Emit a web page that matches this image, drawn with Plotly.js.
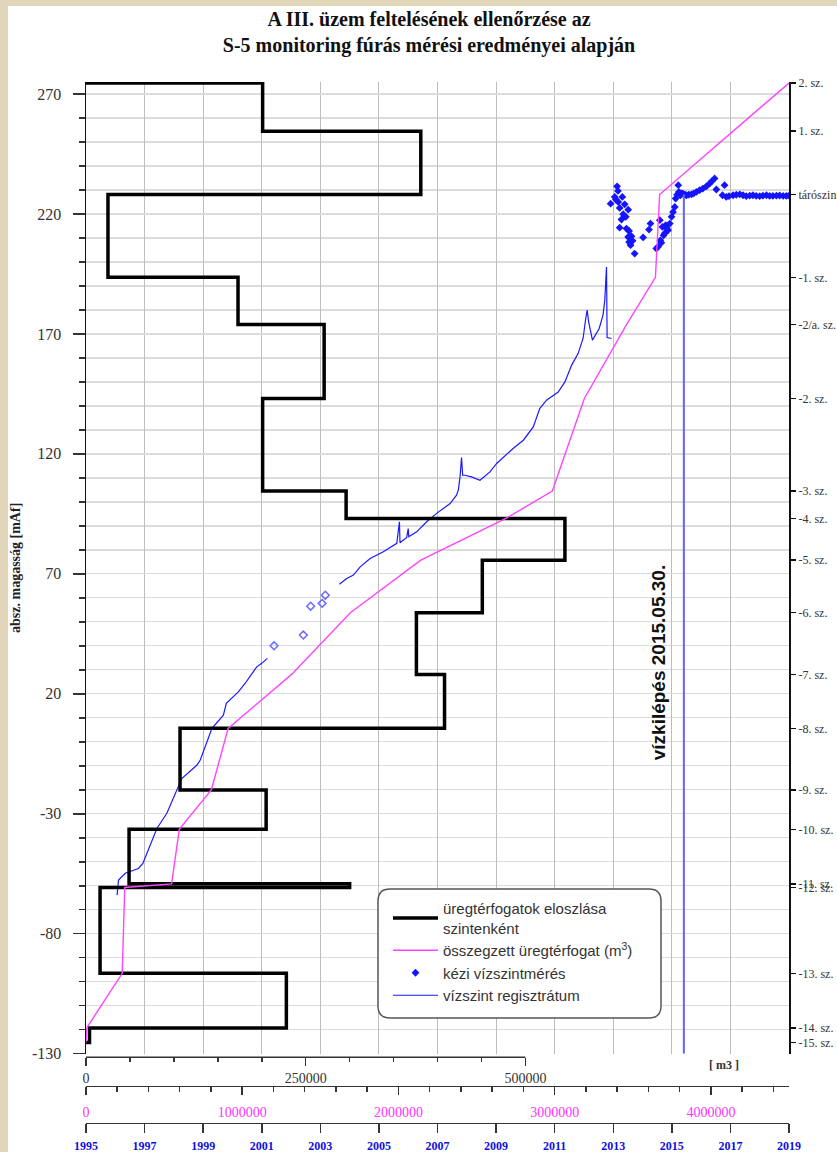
<!DOCTYPE html>
<html><head><meta charset="utf-8">
<script src="https://cdn.plot.ly/plotly-3.0.1.min.js"></script>
<style>
html,body{margin:0;padding:0;width:837px;height:1152px;overflow:hidden;background:#e2d6ba;}
#bg{position:absolute;left:8px;top:6px;width:829px;height:1146px;background:#fff;}
#chart{position:absolute;left:0;top:0;width:837px;height:1152px;}
</style></head><body><div id="bg"></div><div id="chart"></div>
<script>
// ---- data ----
const levelNames = ["2. sz.","1. sz.","tárószint","-1. sz.","-2/a. sz.","-2. sz.","-3. sz.","-4. sz.","-5. sz.","-6. sz.","-7. sz.","-8. sz.","-9. sz.","-10. sz.","-11. sz.","-12. sz.","-13. sz.","-14. sz.","-15. sz."];
const levelValues = [274.6, 254.5, 228.1, 193.6, 173.9, 143.1, 104.5, 93.1, 75.7, 53.8, 28.1, 5.6, -20.1, -36.5, -59.2, -60.7, -96.5, -119.3, -125.3];
// void volume of each layer between consecutive levels (top to bottom), m3
const layerVolumes = [201000, 381000, 25000, 173000, 271000, 201000, 296000, 545000, 451000, 376000, 408000, 107000, 205000, 49000, 300000, 16000, 228000, 4000];

// cumulative void volume (m3) vs level
const cumLevels  = [-125.3, -119.3, -96.5, -60.7, -59.2, -36.5, -20.1, 5.6, 28.1, 53.8, 75.7, 93.1, 104.5, 143.1, 173.9, 193.6, 228.1, 274.6];
const cumVolumes = [0, 4000, 232000, 248000, 548000, 597000, 802000, 910000, 1316000, 1692000, 2143000, 2688000, 2985000, 3190000, 3460000, 3645000, 3672000, 4500000];

// water level logger record
const regYears = [1996.06,1996.11,1996.34,1996.79,1996.94,1997.42,1997.76,1998.16,1998.27,1998.79,
  1998.9,1999.3,1999.69,1999.79,2000.03,2000.2,2000.43,2000.6,2000.83,2001.0,
  2001.19,null,
  2003.65,2003.9,2004.13,2004.36,2004.7,2005.15,2005.61,2005.7,2005.72,2005.95,
  2006.0,2006.02,2006.29,2006.63,2006.97,2007.43,2007.65,2007.71,2007.77,2007.82,
  2007.86,2007.94,2008.16,2008.45,2008.79,2009.02,2009.58,2009.93,2010.27,2010.49,
  2010.72,2011.12,2011.35,2011.58,2011.8,2011.97,2012.06,2012.11,2012.16,2012.2,
  2012.29,2012.52,2012.65,2012.71,2012.77,2012.79,2012.94];
const regLevels = [-63.9,-57.6,-54.8,-52.8,-50.7,-36.1,-29.8,-18.0,-15.3,-9.7,
  -7.6,5.6,11.1,16.0,18.75,20.8,24.3,27.1,31.25,32.7,
  34.75,null,
  65.7,68.1,69.5,72.9,76.4,79.2,82.7,91.7,83.0,85.2,
  88.9,85.5,87.5,91.7,95.2,99.3,102.8,104.9,110.4,118.5,
  111.1,111.1,110.4,109.0,112.5,116.0,122.25,125.7,131.25,138.9,
  142.4,145.8,150.0,157.0,161.8,168.1,176.4,179.9,175.0,172.25,
  167.4,172.25,177.8,184.0,197.9,168.5,168.1];

// manual water level measurements
const manualYears = [2012.91,2013.05,2013.09,2013.13,2013.16,2013.17,2013.22,2013.22,2013.28,2013.31,
  2013.34,2013.39,2013.43,2013.45,2013.51,2013.51,2013.54,2013.54,2013.59,2013.62,
  2013.66,2013.73,2014.02,2014.22,2014.27,2014.47,2014.53,2014.59,2014.61,2014.64,
  2014.68,2014.72,2014.76,2014.79,2014.83,2014.87,2014.93,2014.99,2015.04,2015.10,
  2015.13,2015.18,2015.22,2015.24,2015.29,2015.34,2015.38,2015.45,2015.50,2015.58,
  2015.67,2015.75,2015.84,2015.95,2016.06,2016.18,2016.29,2016.38,2016.46,2016.52,
  2016.73,2016.80,2016.86,2016.95,2017.09,2017.20,2017.32,2017.43,2017.54,2017.66,
  2017.77,2017.88,2018.00,2018.11,2018.23,2018.34,2018.45,2018.57,2018.68,2018.80,
  2018.91,2019.00];
const manualLevels = [224.3,227.1,226.0,231.5,229.6,225.0,222.5,214.3,217.7,227.1,
  219.9,224.0,218.8,213.9,221.8,210.4,212.9,208.3,207.0,210.7,
  208.8,203.5,210.2,213.5,216.0,205.6,206.3,217.4,209.0,208.0,
  214.6,211.1,212.0,215.3,214.0,213.2,216.0,218.8,220.8,222.9,
  226.4,228.0,232.0,229.2,227.8,228.6,228.5,228.0,227.8,228.1,
  228.2,228.6,229.2,229.9,230.6,231.5,232.7,233.8,234.8,230.2,
  227.8,232.0,227.1,227.4,227.8,228.0,228.2,227.8,227.4,227.6,
  227.8,227.5,227.4,227.6,227.8,227.5,227.5,227.6,227.7,227.5,
  227.5,227.6];
const manualOpenYears  = [2001.42, 2002.42, 2002.67, 2003.06, 2003.17];
const manualOpenLevels = [40.0, 44.5, 56.5, 57.7, 61.1];

const exitYear = 2015.41; // vízkilépés 2015.05.30.
const exitLabel = "vízkilépés 2015.05.30.";

// axis ticks
const yTickVals = [-130, -80, -30, 20, 70, 120, 170, 220, 270];
const yTickText = ["-130", "-80", "-30", "20", "70", "120", "170", "220", "270"];
const volTickVals = [0, 250000, 500000];
const volTickText = ["0", "250000", "500000"];
const cumTickVals = [0, 1000000, 2000000, 3000000, 4000000];
const cumTickText = ["0", "1000000", "2000000", "3000000", "4000000"];

// ---- build ----
const stepX = [0], stepY = [levelValues[0]];
for (let i = 0; i < layerVolumes.length; i++) {
  stepX.push(layerVolumes[i], layerVolumes[i]);
  stepY.push(levelValues[i], levelValues[i + 1]);
}
stepX.push(0); stepY.push(levelValues[levelValues.length - 1]);

const volMinor = [];
for (let v = 50000; v < 500000; v += 50000) if (v !== 250000) volMinor.push(v);

const H = 1152, T = 82, B = 12, L = 86, R = 48;
const ph = H - T - B, pw = 837 - L - R;
const py = p => (H - B - p) / ph;
const px = p => (p - L) / pw;

const serif = "Liberation Serif, Times New Roman, serif";
const sans = "Liberation Sans, Arial, sans-serif";

const traces = [
  {x: stepX, y: stepY, xaxis: 'x2', yaxis: 'y2', mode: 'lines',
   line: {color: '#000', width: 3.5}, name: 'üregtérfogatok eloszlása<br>szintenként'},
  {x: cumVolumes, y: cumLevels, xaxis: 'x3', yaxis: 'y', mode: 'lines',
   line: {color: '#ff44ff', width: 1.4}, name: 'összegzett üregtérfogat (m<sup>3</sup>)'},
  {x: manualYears, y: manualLevels, xaxis: 'x', yaxis: 'y', mode: 'markers',
   marker: {symbol: 'diamond', size: 6, color: '#1414ff'}, name: 'kézi vízszintmérés'},
  {x: regYears, y: regLevels, xaxis: 'x', yaxis: 'y', mode: 'lines', connectgaps: false,
   line: {color: '#1a1aff', width: 1.2}, name: 'vízszint regisztrátum'},
  {x: manualOpenYears, y: manualOpenLevels, xaxis: 'x', yaxis: 'y', mode: 'markers', showlegend: false,
   marker: {symbol: 'diamond-open', size: 6, color: '#6a6aff', line: {width: 1.5, color: '#6a6aff'}}},
  {x: [exitYear, exitYear], y: [levelValues[2], -130], xaxis: 'x', yaxis: 'y', mode: 'lines', showlegend: false,
   line: {color: '#6262ff', width: 2}}
];

// rounded legend box path (paper coords)
const bx0 = px(378), bx1 = px(661), by0 = py(1018), by1 = py(889);
const rx = 12 / pw, ry = 12 / ph;
const boxPath = `M${bx0 + rx},${by1} L${bx1 - rx},${by1} Q${bx1},${by1} ${bx1},${by1 - ry} ` +
  `L${bx1},${by0 + ry} Q${bx1},${by0} ${bx1 - rx},${by0} L${bx0 + rx},${by0} Q${bx0},${by0} ${bx0},${by0 + ry} ` +
  `L${bx0},${by1 - ry} Q${bx0},${by1} ${bx0 + rx},${by1} Z`;

const layout = {
  width: 837, height: 1152,
  margin: {l: L, r: R, t: T, b: B},
  paper_bgcolor: 'rgba(0,0,0,0)', plot_bgcolor: '#fff',
  showlegend: true,
  title: {text: 'A III. üzem feltelésének ellenőrzése az<br>S-5 monitoring fúrás mérési eredményei alapján',
    font: {family: serif, size: 20, weight: 'bold', color: '#111'},
    xref: 'paper', x: px(429), xanchor: 'center', yref: 'container', y: 1 - 26 / H, yanchor: 'top'},
  xaxis: {range: [1995, 2019], domain: [0, 1], anchor: 'free', position: py(1122.7),
    tickmode: 'linear', tick0: 1995, dtick: 2, ticks: 'outside', ticklen: 9, tickwidth: 1.5, tickcolor: '#333',
    showline: true, linecolor: '#333', linewidth: 1.5, ticklabelstandoff: 2,
    tickfont: {family: serif, size: 12, color: '#1010e0', weight: 'bold'},
    showgrid: true, gridcolor: '#bdbdbd', gridwidth: 1, zeroline: false},
  xaxis2: {range: [0, 800000], overlaying: 'x', anchor: 'free', position: py(1057.3),
    tickmode: 'array', tickvals: volTickVals, ticktext: volTickText,
    ticks: 'outside', ticklen: 8, tickwidth: 1.5, tickcolor: '#333',
    minor: {tickmode: 'array', tickvals: volMinor, ticks: 'outside', ticklen: 4, tickwidth: 1.5, tickcolor: '#333'},
    tickfont: {family: serif, size: 14, color: '#333'}, ticklabelstandoff: 0,
    showline: false, showgrid: false, zeroline: false},
  xaxis3: {range: [0, 4500000], overlaying: 'x', anchor: 'free', position: py(1085.7),
    tickmode: 'array', tickvals: cumTickVals, ticktext: cumTickText,
    ticks: 'outside', ticklen: 8, tickwidth: 1.5, tickcolor: '#333',
    minor: {tickmode: 'linear', tick0: 0, dtick: 200000, ticks: 'outside', ticklen: 5, tickwidth: 1.5, tickcolor: '#333'},
    tickfont: {family: serif, size: 14, color: '#ff33ff'}, ticklabelstandoff: 5,
    showline: true, linecolor: '#333', linewidth: 1.5, showgrid: false, zeroline: false},
  yaxis: {range: [-130, 275], domain: [py(1053.7), 1], anchor: 'x',
    tickmode: 'array', tickvals: yTickVals, ticktext: yTickText,
    ticks: 'outside', ticklen: 12, tickwidth: 1.5, tickcolor: '#333',
    minor: {tickmode: 'linear', tick0: -130, dtick: 10, ticks: 'outside', ticklen: 6, tickwidth: 1.5, tickcolor: '#333',
      showgrid: true, gridcolor: '#dcdcdc', gridwidth: 1.3},
    tickfont: {family: serif, size: 16, color: '#333'}, ticklabelstandoff: 8,
    showline: true, linecolor: '#111', linewidth: 1.5,
    showgrid: true, gridcolor: '#dcdcdc', gridwidth: 1.3, zeroline: false,
    title: {text: 'absz. magasság [mAf]', font: {family: serif, size: 14, weight: 'bold', color: '#222'}, standoff: 8}},
  yaxis2: {range: [-130, 275], overlaying: 'y', side: 'right', anchor: 'x',
    tickmode: 'array', tickvals: levelValues, ticktext: levelNames,
    ticks: 'outside', ticklen: 5, tickwidth: 1.5, tickcolor: '#111',
    tickfont: {family: serif, size: 12, color: '#333'}, ticklabelstandoff: 0,
    showline: true, linecolor: '#111', linewidth: 2, showgrid: false, zeroline: false},
  legend: {x: px(388), y: py(892), xanchor: 'left', yanchor: 'top', itemwidth: 45,
    bgcolor: 'rgba(0,0,0,0)', borderwidth: 0,
    font: {family: sans, size: 15, color: '#333'}, tracegroupgap: 0},
  shapes: [
    {type: 'line', xref: 'x2', yref: 'paper', x0: 0, x1: volTickVals[2], y0: py(1057.3), y1: py(1057.3),
     line: {color: '#333', width: 1.5}},
    {type: 'path', xref: 'paper', yref: 'paper', path: boxPath, layer: 'above',
     fillcolor: '#fff', line: {color: '#555', width: 1.5}}
  ],
  annotations: [
    {text: exitLabel, xref: 'x', yref: 'y', x: 2014.55, y: 33, textangle: -90, showarrow: false,
     xanchor: 'center', yanchor: 'middle',
     font: {family: sans, size: 19, weight: 'bold', color: '#111'}},
    {text: '[ m3 ]', xref: 'paper', yref: 'paper', x: px(724), y: py(1065), showarrow: false,
     xanchor: 'center', yanchor: 'middle',
     font: {family: serif, size: 12, weight: 'bold', color: '#333'}}
  ]
};

Plotly.newPlot('chart', traces, layout, {staticPlot: true, displayModeBar: false});
</script></body></html>
